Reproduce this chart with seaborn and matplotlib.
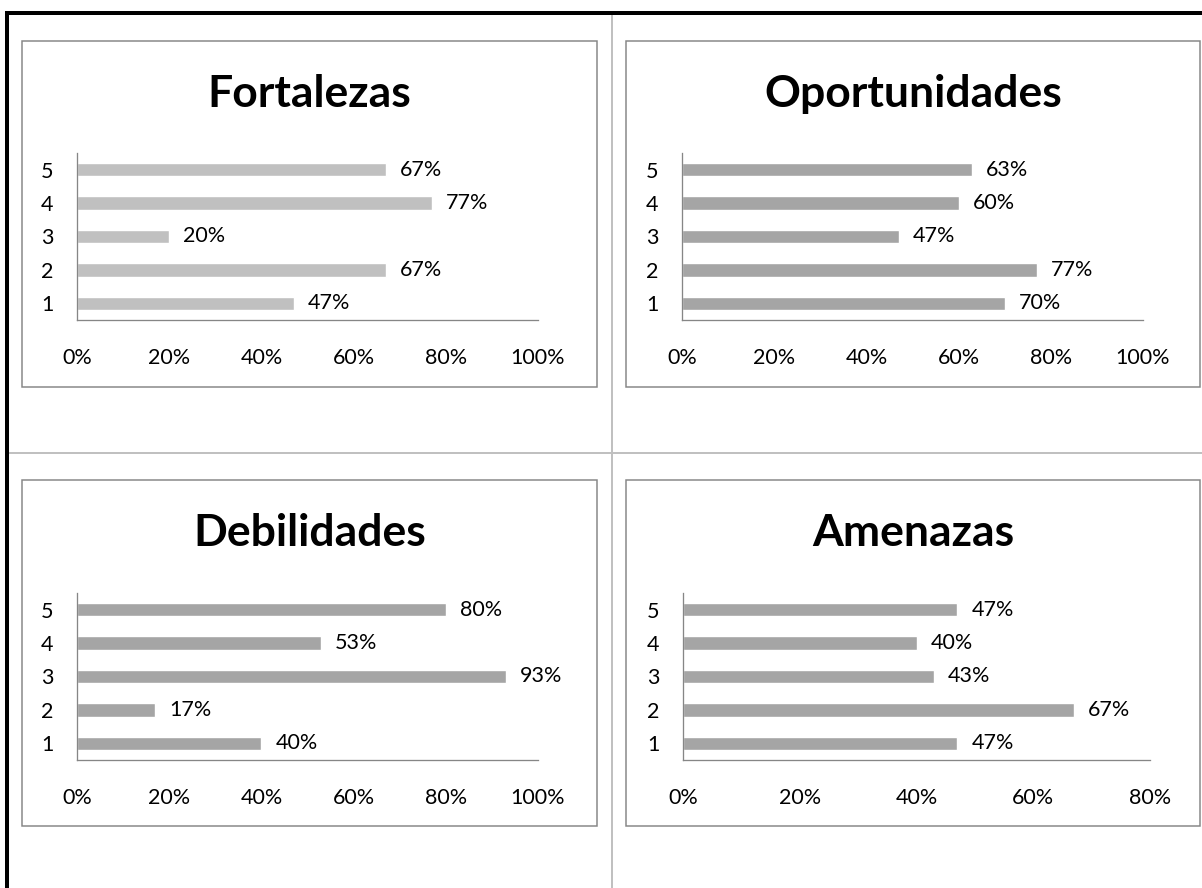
import matplotlib
matplotlib.use('Agg')
import matplotlib.pyplot as plt
import seaborn as sns
import pandas as pd
from matplotlib.patches import Rectangle
from matplotlib.ticker import PercentFormatter

sns.set_theme(style='white')
plt.rcParams['font.family'] = ['Lato', 'DejaVu Sans']

categories = ['1', '2', '3', '4', '5']
fortalezas = [0.47, 0.67, 0.20, 0.77, 0.67]
oportunidades = [0.70, 0.77, 0.47, 0.60, 0.63]
debilidades = [0.40, 0.17, 0.93, 0.53, 0.80]
amenazas = [0.47, 0.67, 0.43, 0.40, 0.47]
titles = ['Fortalezas', 'Oportunidades', 'Debilidades', 'Amenazas']
ticks_100 = [0, 0.2, 0.4, 0.6, 0.8, 1.0]
ticks_80 = [0, 0.2, 0.4, 0.6, 0.8]

W, H = 1202, 888
fig = plt.figure(figsize=(W / 100, H / 100), dpi=100)

bg = fig.add_axes([0, 0, 1, 1])
bg.set_xlim(0, W)
bg.set_ylim(H, 0)
bg.axis('off')

PX = 0.72  # points per pixel
# outer black frame (top and left)
bg.plot([5, W], [13, 13], color='black', lw=4 * PX, solid_capstyle='butt')
bg.plot([7, 7], [11, H], color='black', lw=4 * PX, solid_capstyle='butt')
# table dividers
bg.plot([612, 612], [15, H], color='#c0c0c0', lw=2 * PX, solid_capstyle='butt')
bg.plot([9, W], [453, 453], color='#c0c0c0', lw=2 * PX, solid_capstyle='butt')

boxes = [(22, 41, 597, 387), (626, 41, 1200, 387),
         (22, 480, 597, 826), (626, 480, 1200, 826)]
for (x0, y0, x1, y1) in boxes:
    bg.add_patch(Rectangle((x0, y0), x1 - x0, y1 - y0, facecolor='white',
                           edgecolor='#868686', lw=1.5 * PX))


def px_rect(x0, y0, x1, y1):
    return [x0 / W, 1 - y1 / H, (x1 - x0) / W, (y1 - y0) / H]


axes_px = [(77, 153, 538, 320), (682, 153, 1143, 320),
           (77, 593, 538, 760), (683, 593, 1150, 760)]
series = [fortalezas, oportunidades, debilidades, amenazas]
colors = ['#c0c0c0', '#a5a5a5', '#a5a5a5', '#a5a5a5']
xmaxes = [1.0, 1.0, 1.0, 0.8]
tick_sets = [ticks_100, ticks_100, ticks_100, ticks_80]
FS = 15.5

for i in range(4):
    ax = fig.add_axes(px_rect(*axes_px[i]))
    ax.set_facecolor('none')
    df = pd.DataFrame({'cat': categories, 'val': series[i]})
    sns.barplot(data=df, x='val', y='cat', order=categories[::-1],
                color=colors[i], width=0.4, saturation=1, errorbar=None, ax=ax)
    ax.set_xlim(0, xmaxes[i])
    ax.set_ylim(4.5, -0.5)
    ax.set_xticks(tick_sets[i])
    ax.xaxis.set_major_formatter(PercentFormatter(1.0, decimals=0))
    ax.set_xlabel('')
    ax.set_ylabel('')
    for s in ['top', 'right']:
        ax.spines[s].set_visible(False)
    for s in ['left', 'bottom']:
        ax.spines[s].set_color('#868686')
        ax.spines[s].set_linewidth(1.3 * PX)
    ax.tick_params(axis='x', length=0, labelsize=FS, pad=20, colors='black')
    ax.tick_params(axis='y', length=0, labelsize=FS, pad=17, colors='black')
    cont = ax.containers[0]
    ax.bar_label(cont, labels=[f"{p.get_width() * 100:.0f}%" for p in cont],
                 padding=10, fontsize=FS, color='black')
    x0, y0, x1, y1 = boxes[i]
    bg.text((x0 + x1) / 2, y0 + 66, titles[i], ha='center', va='baseline',
            fontsize=32, fontweight='bold', color='black')

fig.savefig('out.png', dpi=100)
